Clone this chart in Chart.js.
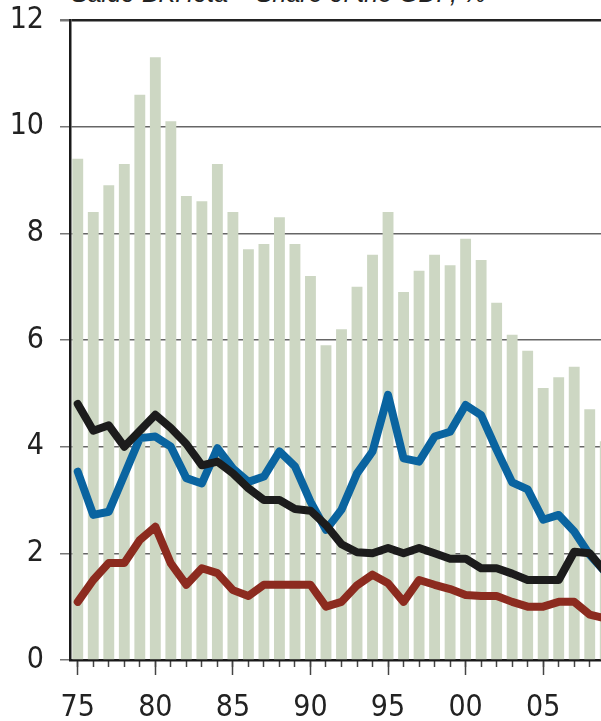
<!DOCTYPE html>
<html>
<head>
<meta charset="utf-8">
<script src="https://cdn.jsdelivr.net/npm/chart.js@4.4.0/dist/chart.umd.min.js"></script>
<style>
  html, body { margin: 0; padding: 0; background: #fff; overflow: hidden; width: 601px; height: 721px; }
  #title {
    position: absolute; left: 71px; top: -19px; white-space: nowrap;
    font: italic 25px/25px "Liberation Sans", Arial, sans-serif; color: #222;
  }
  #chart { position: absolute; left: 0; top: 0; }
</style>
</head>
<body>
<div id="title">Saldo BKHota – Share of the GDP, %</div>
<canvas id="chart" width="613" height="721"></canvas>
<script>
const years = [];
for (let y = 1975; y <= 2009; y++) years.push(String(y));

const yTicks = [0, 2, 4, 6, 8, 10, 12];

// бари - сальдо
const barValues = [9.4, 8.4, 8.9, 9.3, 10.6, 11.3, 10.1, 8.7, 8.6, 9.3, 8.4, 7.7, 7.8, 8.3, 7.8, 7.2, 5.9, 6.2, 7.0, 7.6,
  8.4, 6.9, 7.3, 7.6, 7.4, 7.9, 7.5, 6.7, 6.1, 5.8, 5.1, 5.3, 5.5, 4.7, 4.1];
const blackValues = [4.8, 4.3, 4.4, 4.0, 4.3, 4.6, 4.35, 4.05, 3.65, 3.72, 3.5, 3.22, 3.0, 3.0, 2.83, 2.8, 2.53, 2.17, 2.02, 2.0,
  2.1, 2.0, 2.1, 2.0, 1.9, 1.9, 1.72, 1.72, 1.62, 1.5, 1.5, 1.5, 2.03, 2.0, 1.65];
const blueValues = [3.53, 2.72, 2.78, 3.47, 4.16, 4.19, 4.0, 3.41, 3.31, 3.97, 3.59, 3.34, 3.44, 3.91, 3.63, 2.97, 2.44, 2.82, 3.5, 3.91,
  4.97, 3.78, 3.72, 4.19, 4.28, 4.78, 4.59, 3.94, 3.33, 3.2, 2.63, 2.72, 2.41, 1.97, 1.65];
const redValues = [1.09, 1.5, 1.82, 1.82, 2.25, 2.5, 1.81, 1.41, 1.72, 1.63, 1.31, 1.2, 1.41, 1.41, 1.41, 1.41, 1.0, 1.09, 1.4, 1.6,
  1.44, 1.09, 1.5, 1.41, 1.33, 1.22, 1.2, 1.2, 1.09, 1.0, 1.0, 1.09, 1.09, 0.85, 0.78];

const axisFont = { family: '"Liberation Sans Narrow", "DejaVu Sans Condensed", "Liberation Sans", sans-serif', size: 30 };

function lineSet(label, data, color, order) {
  return {
    type: 'line', label: label, data: data, borderColor: color, borderWidth: 8,
    pointRadius: 0, tension: 0, borderJoinStyle: 'round', borderCapStyle: 'round',
    fill: false, order: order
  };
}

new Chart(document.getElementById('chart'), {
  type: 'bar',
  data: {
    labels: years,
    datasets: [
      { label: 'Saldo', data: barValues, backgroundColor: '#cdd7c3', barPercentage: 0.7, categoryPercentage: 1, order: 4 },
      lineSet('red', redValues, '#8c2b1f', 3),
      lineSet('blue', blueValues, '#0a64a0', 2),
      lineSet('black', blackValues, '#1c1c1c', 1)
    ]
  },
  options: {
    responsive: false,
    animation: false,
    devicePixelRatio: 1,
    layout: { padding: { top: 20, left: 0, right: 0, bottom: 0 } },
    plugins: { legend: { display: false }, tooltip: { enabled: false } },
    scales: {
      y: {
        min: 0, max: 12,
        afterBuildTicks: s => { s.ticks = yTicks.map(v => ({ value: v })); },
        afterFit: s => { s.width = 70; s.paddingTop = 0; s.paddingBottom = 0; },
        border: { display: true, color: '#1a1a1a', width: 2.5 },
        grid: {
          color: c => c.tick.value === 12 ? '#222' : '#666',
          lineWidth: c => c.tick.value === 12 ? 2.5 : 1.5,
          tickLength: 10,
          tickColor: '#777'
        },
        ticks: { font: axisFont, color: '#222', padding: 16 }
      },
      xMinor: {
        type: 'category', position: 'bottom', offset: true, weight: 0,
        afterFit: s => { s.height = 0; s.paddingLeft = 0; s.paddingRight = 0; },
        border: { display: false },
        grid: { offset: false, drawOnChartArea: false, tickLength: 7, tickColor: '#444', tickWidth: 1.5 },
        ticks: { display: false }
      },
      x: {
        offset: true, weight: 1,
        afterFit: s => { s.height = 61; s.paddingLeft = 0; s.paddingRight = 0; },
        border: { display: true, color: '#1a1a1a', width: 2.5 },
        grid: {
          offset: false, drawOnChartArea: false, tickLength: 15, tickWidth: 1.5,
          tickColor: c => (c.index % 5 === 0) ? '#444' : 'rgba(0,0,0,0)'
        },
        ticks: {
          font: axisFont, color: '#222', padding: 15, maxRotation: 0, autoSkip: false,
          callback: (v, i) => i % 5 === 0 ? years[i].slice(2) : ''
        }
      }
    }
  }
});
</script>
</body>
</html>
